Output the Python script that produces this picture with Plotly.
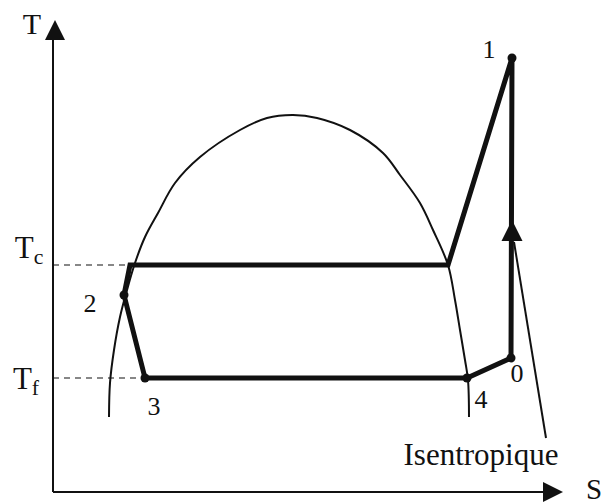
import plotly.graph_objects as go

# T-S diagram, S = entropy (horizontal), T = temperature (vertical)

# saturation dome
dome_s = [109, 110, 114, 120, 127, 135, 145, 158, 175, 200, 240, 267, 293, 317, 350, 383, 400, 420, 433, 448, 455, 460, 465, 468, 469]
dome_t = [87, 121, 154, 187, 214, 241, 267, 291, 321, 347, 374, 386, 389, 386, 374, 351, 329, 301, 274, 239, 204, 174, 144, 124, 87]

# cycle 3 -> 4 -> 0 -> 1 -> condensation -> 2 -> 3
cycle_s = [145, 467, 511, 512, 448, 130, 124, 145]
cycle_t = [126, 126, 146, 446, 239, 239, 209, 126]

# state points
pt_names = ["1", "2", "3", "4", "0"]
pt_s = [512, 124, 145, 467, 511]
pt_t = [446, 209, 126, 126, 146]
lbl_s = [489, 90, 154, 481, 517]
lbl_t = [453, 199, 96, 103, 129]

# levels Tc / Tf
lvl_names = ["T<sub>c</sub>", "T<sub>f</sub>"]
lvl_t = [239, 126]
lvl_end = [130, 145]
lvl_lbl_s = [29, 26]
lvl_lbl_t = [254, 123]

# axes
origin = (53, 12)
s_tip = 563
t_tip = 484

# isentropic pointer
isen_s = [546, 514]
isen_t = [66, 262]
isen_tip = (512, 284)
isen_lbl = (481, 47)

FONT = "Liberation Serif, Times New Roman, serif"
INK = "#111111"

fig = go.Figure()

# axes
fig.add_trace(go.Scatter(x=[origin[0], origin[0]], y=[origin[1], t_tip - 18], mode="lines",
                         line=dict(color=INK, width=2), hoverinfo="skip"))
fig.add_trace(go.Scatter(x=[origin[0], s_tip - 18], y=[origin[1], origin[1]], mode="lines",
                         line=dict(color=INK, width=2), hoverinfo="skip"))
fig.add_trace(go.Scatter(x=[origin[0] + 2, s_tip], y=[t_tip, origin[1]], mode="markers",
                         marker=dict(symbol=["arrow-up", "arrow-right"], size=20, color=INK,
                                     line=dict(width=0)), hoverinfo="skip"))

# dashed levels
for t, e in zip(lvl_t, lvl_end):
    fig.add_trace(go.Scatter(x=[origin[0], e], y=[t, t], mode="lines",
                             line=dict(color=INK, width=1.2, dash="6px,5px"), hoverinfo="skip"))

# dome
fig.add_trace(go.Scatter(x=dome_s, y=dome_t, mode="lines", line=dict(color=INK, width=2, shape="spline"),
                         hoverinfo="skip"))

# cycle
fig.add_trace(go.Scatter(x=cycle_s, y=cycle_t, mode="lines", line=dict(color=INK, width=5),
                         hoverinfo="skip"))
fig.add_trace(go.Scatter(x=pt_s, y=pt_t, mode="markers", marker=dict(color=INK, size=9),
                         hoverinfo="skip"))

# isentropic pointer
fig.add_trace(go.Scatter(x=isen_s, y=isen_t, mode="lines", line=dict(color=INK, width=2),
                         hoverinfo="skip"))
fig.add_trace(go.Scatter(x=[isen_tip[0]], y=[isen_tip[1]], mode="markers",
                         marker=dict(symbol="arrow-up", size=21, color=INK, line=dict(width=0)),
                         hoverinfo="skip"))

# labels
fig.add_trace(go.Scatter(x=lbl_s, y=lbl_t, text=pt_names, mode="text", cliponaxis=False,
                         textfont=dict(family=FONT, size=26, color=INK), hoverinfo="skip"))
fig.add_trace(go.Scatter(x=lvl_lbl_s, y=lvl_lbl_t, text=lvl_names, mode="text", cliponaxis=False,
                         textfont=dict(family=FONT, size=31, color=INK), hoverinfo="skip"))
fig.add_trace(go.Scatter(x=[32, 594, isen_lbl[0]], y=[478, 12, isen_lbl[1]],
                         text=["T", "S", "Isentropique"], mode="text", cliponaxis=False,
                         textfont=dict(family=FONT, size=[30, 29, 31], color=INK), hoverinfo="skip"))

# the page body adds an 8px offset, so the figure is 8px smaller and the ranges shifted
fig.update_layout(
    width=603, height=496,
    margin=dict(l=0, r=0, t=0, b=0),
    showlegend=False,
    plot_bgcolor="white", paper_bgcolor="white",
    xaxis=dict(range=[8, 611], visible=False),
    yaxis=dict(range=[0, 496], visible=False),
)

fig.write_html("out.html")
